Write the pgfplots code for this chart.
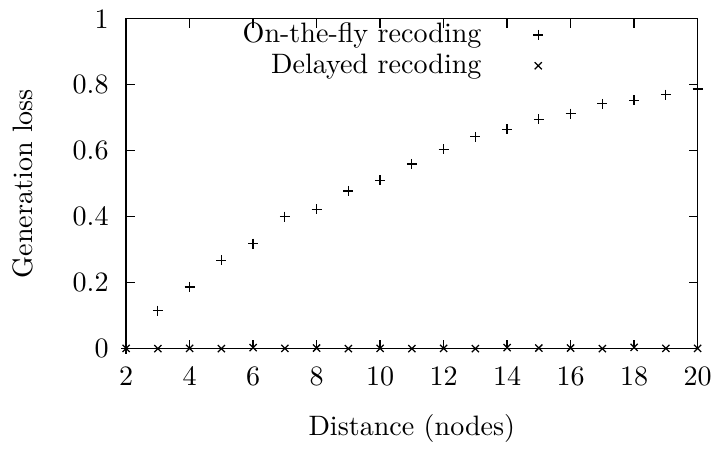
\documentclass[border=0pt]{standalone}
\usepackage{pgfplots}
\pgfplotsset{compat=1.18}
\begin{document}
\begin{tikzpicture}
\begin{axis}[
  scale only axis,
  width=203.5pt, height=117.5pt,
  xmin=2, xmax=20, ymin=0, ymax=1,
  xtick={2,4,...,20},
  ytick={0,0.2,0.4,0.6,0.8,1},
  yticklabels={0,0.2,0.4,0.6,0.8,1},
  xticklabel style={yshift=-3pt},
  yticklabel style={xshift=-2.7pt},
  tick align=inside,
  major tick length=3.2pt,
  tick style={black, line width=0.5pt},
  axis line style={line width=0.5pt},
  xlabel={Distance (nodes)},
  ylabel={Generation loss},
  xlabel style={at={(axis description cs:0.5,0)}, anchor=base, yshift=-31pt},
  ylabel style={at={(axis description cs:0,0.5)}, anchor=base, yshift=33.3pt},
  legend plot pos=right,
  legend cell align=right,
  legend image code/.code={\draw[#1] plot coordinates {(0pt,0pt)};},
  legend style={draw=none, fill=none, inner sep=0pt, outer sep=0pt,
    at={(axis description cs:0.73,1.0)}, anchor=north east, yshift=0.5pt,
    row sep=-1.5pt, column sep=16.4pt, font=\normalsize},
  clip=false,
]
\addplot[only marks, mark=+, mark size=1.8pt, black, line width=0.45pt] coordinates {
(2,0) (3,0.115) (4,0.187) (5,0.268) (6,0.318) (7,0.400) (8,0.422) (9,0.478) (10,0.510)
(11,0.560) (12,0.604) (13,0.642) (14,0.665) (15,0.695) (16,0.712) (17,0.742) (18,0.753)
(19,0.770) (20,0.787)};
\addlegendentry{On-the-fly recoding}
\addplot[only marks, mark=x, mark size=1.8pt, black, line width=0.45pt] coordinates {
(2,0.001) (3,0) (4,0.001) (5,0) (6,0.003) (7,0.001) (8,0.002) (9,0) (10,0.001)
(11,0) (12,0.001) (13,0) (14,0.003) (15,0.002) (16,0.002) (17,0) (18,0.004)
(19,0.001) (20,0.001)};
\addlegendentry{Delayed recoding}
\end{axis}
\path[use as bounding box] (-44.9pt,-32.3pt) rectangle (208.1pt,123.5pt);
\end{tikzpicture}
\end{document}
